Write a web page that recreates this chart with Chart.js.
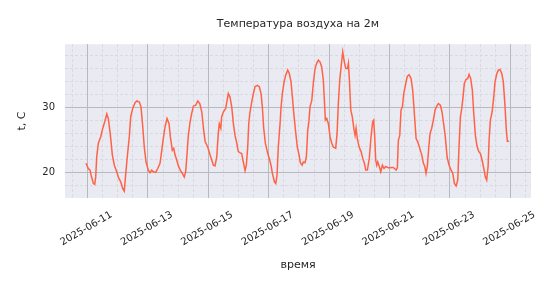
<!DOCTYPE html>
<html>
<head>
<meta charset="utf-8">
<script src="https://cdn.jsdelivr.net/npm/chart.js@4"></script>
<style>
  html, body { margin: 0; padding: 0; background: #ffffff; }
  #wrap { width: 559px; height: 290px; }
</style>
</head>
<body>
<div id="wrap"><canvas id="c" width="559" height="290"></canvas></div>
<script>
// Hours since 2025-06-11 00:00
const hours = [
  -1.2,0.6,2.0,2.8,4.6,5.7,6.5,7.3,8.6,10.5,12.1,13.7,15.3,16.5,17.9,18.7,19.7,21.3,23.2,24.8,26.4,28.0,29.2,30.4,31.6,33.2,34.3,35.9,37.7,39.1,41.2,42.5,43.9,45.1,46.5,
  48.3,49.7,51.0,52.3,54.2,55.8,57.6,59.0,60.2,61.6,63.2,64.8,65.8,67.4,68.5,69.5,70.9,72.2,73.7,75.3,76.9,78.0,79.1,80.1,81.5,82.8,84.1,86.0,87.6,89.2,90.8,92.3,93.4,
  95.5,97.4,98.7,100.0,101.3,102.7,103.9,104.7,105.9,106.6,107.9,109.8,110.9,111.9,113.2,114.6,115.9,117.2,118.6,119.8,121.4,122.5,123.8,125.2,126.2,127.3,128.1,129.1,130.5,131.8,133.1,134.9,136.5,137.9,138.9,140.0,141.3,
  143.2,144.2,145.8,146.9,148.5,149.6,150.6,151.6,153.0,153.8,154.8,156.2,157.5,159.1,160.4,161.7,162.8,163.9,165.5,166.7,168.1,169.1,170.5,171.5,172.8,173.9,175.0,176.0,176.8,178.2,179.4,180.8,182.1,183.4,184.8,186.1,187.4,188.2,189.0,190.1,191.4,192.7,194.1,195.3,
  197.2,198.3,199.3,200.4,201.5,202.8,203.8,205.2,206.5,207.3,208.1,209.2,210.4,211.8,212.6,213.4,214.4,215.8,217.4,218.7,220.0,221.1,222.4,223.9,225.3,226.6,227.4,228.2,229.0,229.8,230.6,231.7,233.0,234.3,235.6,237.0,239.0,240.4,241.7,243.0,245.2,246.2,
  247.0,248.1,249.1,250.2,251.3,252.9,254.1,255.5,257.1,258.4,259.7,261.1,262.4,264.0,265.6,266.9,268.0,269.0,270.0,271.2,272.2,273.5,274.8,276.2,277.5,278.8,280.4,281.7,283.1,284.3,
  285.7,287.3,288.9,290.2,291.5,292.9,294.2,295.2,296.3,297.4,298.4,299.4,300.8,302.1,303.2,304.5,305.8,306.9,308.2,309.5,310.9,312.2,313.5,314.9,316.1,317.2,318.3,319.1,320.1,321.5,322.8,323.8,325.2,326.5,327.8,329.2,330.4,331.8,332.8,333.6,335.0
];
// Air temperature at 2 m, °C
const temps = [
  21.4,20.6,20.35,19.6,18.3,18.15,19.3,22.4,24.5,25.5,26.8,27.8,29.0,28.3,26.2,24.7,22.7,21.1,20.1,19.1,18.55,17.5,17.1,19.85,22.4,25.5,28.55,29.85,30.7,31.0,30.85,30.1,27.0,23.9,21.6,
  20.35,19.95,20.35,20.1,20.0,20.6,21.4,23.4,25.2,27.0,28.3,27.5,25.5,23.4,23.7,22.7,21.9,21.0,20.35,19.85,19.3,20.1,22.9,25.7,27.8,29.1,30.2,30.35,31.0,30.6,29.3,26.5,24.8,
  23.9,22.7,21.9,21.1,21.0,22.4,26.0,27.5,26.8,28.55,29.3,29.85,31.1,32.15,31.6,30.1,27.5,25.7,24.5,23.2,23.0,22.9,21.6,20.25,21.1,23.9,27.5,29.3,30.85,32.15,33.2,33.4,33.2,32.15,30.1,26.8,24.5,
  22.9,22.3,21.1,19.85,18.55,18.3,19.6,23.9,27.5,30.1,32.15,33.95,35.0,35.75,35.2,33.95,31.6,29.1,26.0,23.9,22.7,21.5,21.1,21.6,21.5,22.4,26.5,28.05,30.1,31.1,33.7,36.0,36.8,37.3,37.0,36.25,34.2,31.1,28.05,28.3,27.5,25.5,24.5,23.9,
  23.7,26.0,30.6,34.2,36.25,38.55,37.3,36.0,36.0,36.8,34.2,29.6,28.55,26.5,25.7,26.8,25.2,23.9,23.2,22.15,21.4,20.35,20.35,22.15,25.5,27.8,28.05,25.5,21.9,21.1,21.6,21.0,20.1,21.1,20.6,20.9,20.7,20.7,20.75,20.75,20.35,20.7,
  24.95,25.7,29.6,30.1,32.15,33.7,34.8,35.05,34.45,32.65,29.1,25.2,24.7,23.7,22.7,21.4,20.9,19.85,20.9,23.9,26.0,26.8,28.05,29.6,30.2,30.6,30.35,29.3,27.3,25.5,
  22.4,21.1,20.35,19.9,18.3,17.9,18.8,23.9,28.55,29.85,31.6,33.7,34.35,34.45,35.1,34.45,32.65,29.1,25.7,24.05,23.2,22.9,21.9,20.6,19.3,18.8,20.9,24.95,28.05,29.3,31.6,33.95,35.2,35.75,35.85,35.2,33.95,30.1,26.5,24.8,24.8
];
const xTickLabels = ['2025-06-11','2025-06-13','2025-06-15','2025-06-17','2025-06-19','2025-06-21','2025-06-23','2025-06-25'];
const yTickValues = [20, 30];

const points = hours.map((h, i) => ({ x: h, y: temps[i] }));
const TEXT = '#262626';
const FONT = 'DejaVu Sans';

const bgPlugin = {
  id: 'plotBg',
  beforeDraw(chart) {
    const a = chart.chartArea, ctx = chart.ctx;
    ctx.save();
    ctx.fillStyle = '#EAEAF2';
    ctx.fillRect(a.left, a.top, a.right - a.left, a.bottom - a.top);
    ctx.restore();
  }
};

new Chart(document.getElementById('c'), {
  type: 'line',
  data: {
    datasets: [{
      data: points,
      borderColor: '#ff6347',
      borderWidth: 1.5,
      pointRadius: 0,
      tension: 0,
      fill: false
    }]
  },
  options: {
    responsive: false,
    animation: false,
    devicePixelRatio: 1,
    layout: { padding: { left: 0, right: 28, top: 0, bottom: 0 } },
    plugins: {
      legend: { display: false },
      tooltip: { enabled: false },
      title: {
        display: true,
        fullSize: false,
        text: 'Температура воздуха на 2м',
        color: TEXT,
        font: { family: FONT, size: 11, weight: 'normal' },
        padding: { top: 18, bottom: 13 }
      }
    },
    scales: {
      x2: {
        type: 'linear', position: 'bottom', min: -17.9, max: 352.4, z: -1,
        ticks: { display: false, stepSize: 12, includeBounds: false },
        grid: { color: '#d9d9e0', lineWidth: 1, drawTicks: false },
        border: { display: false, dash: [3, 2] },
        afterFit(s) { s.height = 0; }
      },
      y2: {
        type: 'linear', position: 'left', min: 16.05, max: 39.75, z: -1,
        ticks: { display: false, stepSize: 2, includeBounds: false },
        grid: { color: '#d9d9e0', lineWidth: 1, drawTicks: false },
        border: { display: false, dash: [3, 2] },
        afterFit(s) { s.width = 0; }
      },
      x: {
        type: 'linear', position: 'bottom', min: -17.9, max: 352.4,
        ticks: {
          stepSize: 48, includeBounds: false, autoSkip: false,
          minRotation: 30, maxRotation: 30,
          labelOffset: 24, padding: 11,
          color: TEXT, font: { family: FONT, size: 10 },
          callback: (v) => xTickLabels[Math.round(v / 48)] || ''
        },
        grid: { color: '#b8b8bf', lineWidth: 1, drawTicks: false },
        border: { display: false },
        title: {
          display: true, text: 'время', color: TEXT,
          font: { family: FONT, size: 11 },
          padding: { top: 0, bottom: 18 }
        },
        afterFit(s) { s.height = 92; }
      },
      y: {
        type: 'linear', position: 'left', min: 16.05, max: 39.75,
        afterBuildTicks(s) { s.ticks = yTickValues.map(v => ({ value: v })); },
        ticks: {
          padding: 10, color: TEXT, font: { family: FONT, size: 10 },
          callback: (v) => String(v)
        },
        grid: { color: '#b8b8bf', lineWidth: 1, drawTicks: false },
        border: { display: false },
        title: {
          display: true, text: 't, С', color: TEXT,
          font: { family: FONT, size: 11 },
          padding: { top: 16, bottom: 0 }
        },
        afterFit(s) { s.width = 65; }
      }
    }
  },
  plugins: [bgPlugin]
});
</script>
</body>
</html>
